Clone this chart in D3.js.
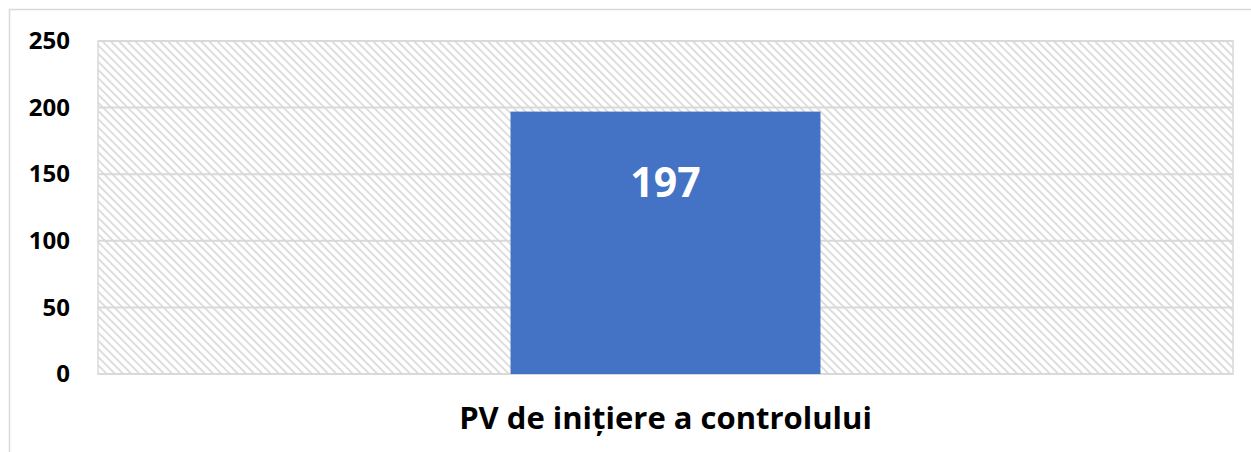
<!DOCTYPE html>
<html>
<head>
<meta charset="utf-8">
<script src="https://cdn.jsdelivr.net/npm/d3@7"></script>
<style>
  body { margin: 0; background: #fff; }
  svg { display: block; }
</style>
</head>
<body>
<div id="chart"></div>
<script>
// chart data
var categories = ["PV de inițiere a controlului"];
var values = [197];
var yTicks = [0, 50, 100, 150, 200, 250];

var W = 1251, H = 452;
var margin = {top: 41, right: 18, bottom: 78, left: 98},
    width = W - margin.left - margin.right,
    height = H - margin.top - margin.bottom;

var svg = d3.select("#chart")
  .append("svg")
    .attr("width", W)
    .attr("height", H);

// diagonal hatch for plot background (lines running down to the right)
var defs = svg.append("defs");
var pat = defs.append("pattern")
    .attr("id", "hatch")
    .attr("patternUnits", "userSpaceOnUse")
    .attr("width", 5.8)
    .attr("height", 5.8)
    .attr("patternTransform", "rotate(45)");
pat.append("rect").attr("width", 5.8).attr("height", 5.8).attr("fill", "#fff");
pat.append("line")
    .attr("x1", 0).attr("y1", 2.9).attr("x2", 5.8).attr("y2", 2.9)
    .attr("stroke", "#d6d6d6")
    .attr("stroke-width", 1.6);

// outer chart border
svg.append("rect")
  .attr("x", 9.5).attr("y", 9.5)
  .attr("width", W + 20).attr("height", H + 20)
  .attr("fill", "none")
  .attr("stroke", "#d9d9d9")
  .attr("stroke-width", 1.5);

var g = svg.append("g")
  .attr("transform", "translate(" + margin.left + "," + margin.top + ")");

var x = d3.scaleBand()
  .domain(categories)
  .range([0, width])
  .padding(0.571);

var y = d3.scaleLinear()
  .domain([0, 250])
  .range([height, 0]);

// plot background
g.append("rect")
  .attr("width", width)
  .attr("height", height)
  .attr("fill", "url(#hatch)")
  .attr("stroke", "#d9d9d9")
  .attr("stroke-width", 1.5);

// gridlines
g.selectAll(".grid")
  .data(yTicks)
  .enter()
  .append("line")
    .attr("x1", 0)
    .attr("x2", width)
    .attr("y1", function(d) { return y(d); })
    .attr("y2", function(d) { return y(d); })
    .attr("stroke", "#d9d9d9")
    .attr("stroke-width", 2);

// y axis labels
var yAxis = g.append("g")
  .call(d3.axisLeft(y).tickValues(yTicks).tickSize(0).tickPadding(28));
yAxis.select(".domain").remove();
yAxis.selectAll("text")
  .attr("font-family", "'Open Sans', sans-serif")
  .attr("font-weight", "bold")
  .attr("font-size", "24px")
  .attr("fill", "#000");

// bars
g.selectAll(".bar")
  .data(values)
  .enter()
  .append("rect")
    .attr("x", function(d, i) { return x(categories[i]); })
    .attr("y", function(d) { return y(d); })
    .attr("width", x.bandwidth())
    .attr("height", function(d) { return height - y(d); })
    .attr("fill", "#4472c4");

// value labels
g.selectAll(".val")
  .data(values)
  .enter()
  .append("text")
    .attr("x", function(d, i) { return x(categories[i]) + x.bandwidth() / 2; })
    .attr("y", function(d) { return y(d) + 85; })
    .attr("text-anchor", "middle")
    .attr("font-family", "'Open Sans', sans-serif")
    .attr("font-weight", "bold")
    .attr("font-size", "41px")
    .attr("fill", "#fff")
    .text(function(d) { return d; });

// x axis labels
var xAxis = g.append("g")
  .attr("transform", "translate(0," + height + ")")
  .call(d3.axisBottom(x).tickSize(0).tickPadding(33));
xAxis.select(".domain").remove();
xAxis.selectAll("text")
  .attr("font-family", "'Open Sans', sans-serif")
  .attr("font-weight", "bold")
  .attr("font-size", "31px")
  .attr("fill", "#000");
</script>
</body>
</html>
